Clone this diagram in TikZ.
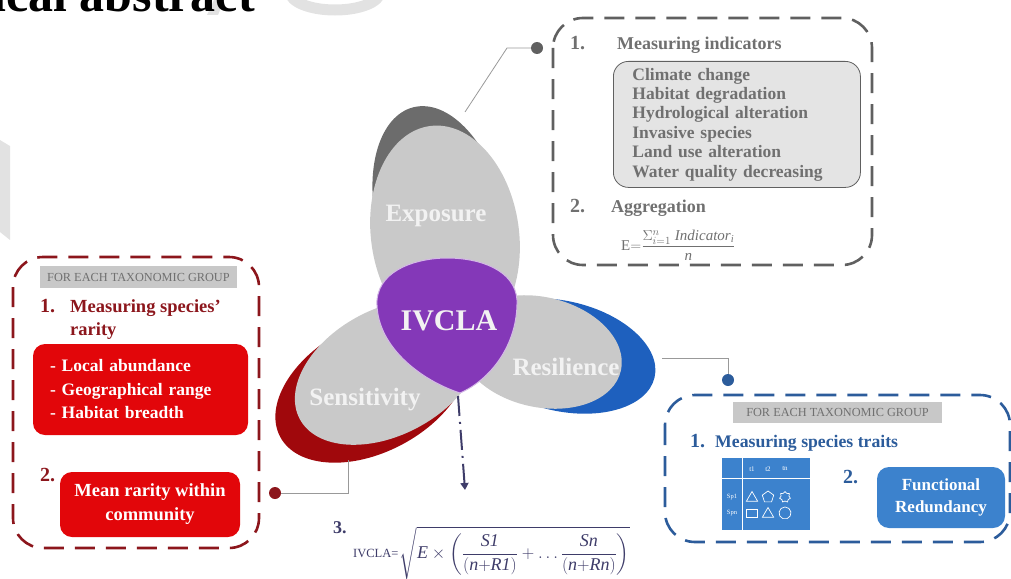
\documentclass[tikz,border=0pt]{standalone}
\usepackage{amsmath}
\usepackage{fontspec}
\setmainfont{Liberation Serif}
\usetikzlibrary{positioning,arrows.meta,shapes.geometric}

\definecolor{petalgray}{RGB}{201,201,201}
\definecolor{expodark}{RGB}{108,108,108}
\definecolor{sensired}{RGB}{160,8,12}
\definecolor{resiblue}{RGB}{30,96,190}
\definecolor{ivclapurple}{RGB}{132,56,184}
\definecolor{boxred}{RGB}{226,6,10}
\definecolor{darkred}{RGB}{140,22,28}
\definecolor{boxblue}{RGB}{60,130,205}
\definecolor{lineblue}{RGB}{44,92,155}
\definecolor{framegray}{RGB}{96,96,96}
\definecolor{textgray}{RGB}{112,112,112}
\definecolor{lightbox}{RGB}{228,228,228}
\definecolor{bannergray}{RGB}{200,200,200}
\definecolor{formulanavy}{RGB}{62,60,105}
\definecolor{wmgray}{RGB}{226,226,226}

\begin{document}
\begin{tikzpicture}[x=1pt, y=-1pt,
    petal/.style={fill=petalgray},
    petallabel/.style={text=white!95!black, inner sep=0pt, font=\fontsize{25}{27}\selectfont\bfseries},
    dashframe/.style={line width=2.6pt, dash pattern=on 20pt off 11pt, rounded corners=30pt},
    banner/.style={fill=bannergray, inner sep=0pt, minimum height=22pt, font=\fontsize{12.3}{14}\selectfont, text=textgray},
    numlabel/.style={anchor=base west, inner sep=0pt, font=\fontsize{20}{22}\selectfont\bfseries},
    steplabel/.style={anchor=base west, inner sep=0pt, font=\fontsize{18}{22}\selectfont\bfseries},
    fillbox/.style={rounded corners=12pt, text=white, inner sep=0pt, font=\fontsize{17.5}{23.5}\selectfont\bfseries},
    linkdot/.style={circle, inner sep=0pt, minimum size=12pt},
    linkline/.style={draw=gray!80, line width=0.8pt},
    traitshape/.style={draw=white, line width=0.7pt, inner sep=0pt, minimum size=10pt}
  ]
  \useasboundingbox (0,0) rectangle (1011,578);

  % faint watermark pieces
  \fill[wmgray] (207,15) -- (214,0) -- (224,0) -- (218,15) -- cycle;
  \draw[wmgray, line width=11pt] (290,-8) arc[start angle=180, end angle=360, x radius=45pt, y radius=18pt];
  \fill[wmgray] (0,140) -- (10,146) -- (10,240) -- (0,232) -- cycle;

  % title, cut by the page
  \node[anchor=base east, inner sep=0pt, font=\fontsize{50}{52}\selectfont\bfseries] (title) at (255,12) {Graphical abstract};

  % shadows behind the petals
  \fill[expodark, shift={(440,214)}, rotate=14] (0,0) ellipse [x radius=64pt, y radius=110pt];
  \fill[sensired, shift={(372,388)}, rotate=28] (0,0) ellipse [x radius=104pt, y radius=64pt];
  \fill[resiblue, shift={(562,356)}, rotate=-13] (0,0) ellipse [x radius=95pt, y radius=55pt];

  % the three petals
  \fill[petal, shift={(445,235)}, rotate=8] (0,0) ellipse [x radius=74pt, y radius=110pt];
  \fill[petal, shift={(388,372)}, rotate=28] (0,0) ellipse [x radius=100pt, y radius=63pt];
  \fill[petal, shift={(540,352)}, rotate=-13] (0,0) ellipse [x radius=83pt, y radius=55pt];

  % centre
  \filldraw[fill=ivclapurple, draw=ivclapurple!35!white, line width=1pt]
    (460,393) .. controls (420,380) and (375,345) .. (377,300)
    .. controls (380,268) and (420,258) .. (447,258)
    .. controls (480,258) and (515,270) .. (517,300)
    .. controls (518,345) and (490,380) .. (460,393) -- cycle;

  \node[petallabel] (exposure) at (436,216) {Exposure};
  \node[petallabel, font=\fontsize{30}{32}\selectfont\bfseries] (ivcla) at (449,321) {IVCLA};
  \node[petallabel] (resilience) at (566,367) {Resilience};
  \node[petallabel] (sensitivity) at (365,400) {Sensitivity};
  \coordinate (ivclabottom) at (458,396);
  \coordinate (formulatop) at (465,490);
  \draw[formulanavy, line width=2pt, dash pattern=on 20pt off 6pt on 2pt off 6pt,
    -{Triangle[width=8pt,length=7pt]}] (ivclabottom) -- (formulatop);

  % exposure panel
  \draw[dashframe, draw=framegray] (553,18) rectangle (872,265);
  \node[linkdot, fill=framegray] (expodot) at (537,48) {};
  \coordinate (expobend) at (507,48);
  \coordinate (expotip) at (465,112);
  \draw[linkline] (expodot) -- (expobend) -- (expotip);
  \node[numlabel, text=textgray] (expone) at (570,50) {1.};
  \node[steplabel, text=textgray] (expotitle) at (617,49) {Measuring indicators};
  \node[anchor=north west, draw=framegray, fill=lightbox, rounded corners=15pt, line width=0.8pt,
    minimum width=247pt, minimum height=126pt, inner xsep=19pt, text width=209pt, align=left,
    text=textgray, font=\fontsize{17.5}{19.4}\selectfont\bfseries] (indlist) at (613,61)
    {Climate change\\Habitat degradation\\Hydrological alteration\\Invasive species\\Land use alteration\\Water quality decreasing};
  \node[numlabel, text=textgray] (exptwo) at (570,212) {2.};
  \node[steplabel, text=textgray] (aggtitle) at (611,212) {Aggregation};
  \node[anchor=west, text=textgray, inner sep=0pt, font=\fontsize{15}{17}\selectfont] (aggformula) at (621,245)
    {$\mathrm{E}{=}\dfrac{\Sigma_{i=1}^{n}\;\textit{Indicator}_{\textit{i}}}{\textit{n}}$};

  % sensitivity panel
  \draw[dashframe, draw=darkred] (13,257) rectangle (259,548);
  \node[banner, minimum width=197pt] (sensbanner) at (138.5,277) {FOR EACH TAXONOMIC GROUP};
  \node[numlabel, text=darkred] (sensone) at (40,312) {1.};
  \node[steplabel, text=darkred, font=\fontsize{18.5}{22}\selectfont\bfseries] (senstitle) at (70,312) {Measuring species'};
  \node[steplabel, text=darkred, font=\fontsize{18.5}{22}\selectfont\bfseries] (sensrarity) at (70,335) {rarity};
  \node[fillbox, fill=boxred, minimum width=215pt, minimum height=91pt, inner xsep=17pt,
    text width=181pt, align=left] (rarlist) at (140.5,389.5)
    {- Local abundance\\- Geographical range\\- Habitat breadth};
  \node[numlabel, text=darkred] (senstwo) at (40,481) {2.};
  \node[fillbox, fill=boxred, minimum width=180pt, minimum height=65pt, align=center,
    font=\fontsize{18.5}{24}\selectfont\bfseries] (meanrar) at (150,504.5) {Mean rarity within\\community};
  \node[linkdot, fill=darkred] (sensdot) at (275,493) {};
  \coordinate (sensbend) at (348,493);
  \coordinate (senstip) at (348,460);
  \draw[linkline] (sensdot) -- (sensbend) -- (senstip);

  % resilience panel
  \draw[dashframe, draw=lineblue] (665,395) rectangle (1010,542);
  \node[linkdot, fill=lineblue] (residot) at (728,380) {};
  \coordinate (residbend) at (728,358);
  \coordinate (resitip) at (662,358);
  \draw[linkline] (residot) -- (residbend) -- (resitip);
  \node[banner, minimum width=209pt, minimum height=21pt] (resibanner) at (837.5,412.5) {FOR EACH TAXONOMIC GROUP};
  \node[numlabel, text=lineblue] (resione) at (690,447) {1.};
  \node[steplabel, text=lineblue, font=\fontsize{17.7}{22}\selectfont\bfseries] (resititle) at (715,447) {Measuring species traits};
  % trait table
  \node[fill=boxblue, anchor=north west, minimum width=88pt, minimum height=72pt, inner sep=0pt] (traittable) at (722,458) {};
  \draw[white, line width=0.5pt] (742,458) -- (742,530) (722,478) -- (810,478);
  \foreach \lab/\xx in {t1/752, t2/768, tn/785}
    \node[text=white, inner sep=0pt, font=\fontsize{7}{8}\selectfont] (head\lab) at (\xx,469) {\lab};
  \node[text=white, inner sep=0pt, font=\fontsize{6.5}{8}\selectfont] (spone) at (732,497) {Sp1};
  \node[text=white, inner sep=0pt, font=\fontsize{6.5}{8}\selectfont] (spn) at (732,513) {Spn};
  \node[traitshape, regular polygon, regular polygon sides=3, minimum size=13pt] (shapeaa) at (752,498) {};
  \node[traitshape, regular polygon, regular polygon sides=5, minimum size=12pt] (shapeab) at (768,497) {};
  \node[traitshape, star, star points=7, star point ratio=1.35, minimum size=11pt] (shapeac) at (785,497) {};
  \node[traitshape, rectangle, minimum width=11pt, minimum height=8pt] (shapeba) at (752,513) {};
  \node[traitshape, regular polygon, regular polygon sides=3, minimum size=13pt] (shapebb) at (768,514) {};
  \node[traitshape, regular polygon, regular polygon sides=9, minimum size=12pt] (shapebc) at (785,513) {};
  \node[numlabel, text=lineblue] (resitwo) at (843,483) {2.};
  \node[fillbox, fill=boxblue, minimum width=128pt, minimum height=61pt, align=center,
    font=\fontsize{17}{22}\selectfont\bfseries] (funcred) at (941,497.5) {Functional\\Redundancy};

  % final index
  \node[anchor=base west, inner sep=0pt, text=formulanavy, font=\fontsize{18}{20}\selectfont\bfseries] (stepthree) at (333,533) {3.};
  \node[anchor=base west, inner sep=0pt, text=formulanavy, font=\fontsize{12.5}{14}\selectfont] (ivclaeq) at (353,557) {IVCLA=};
  \node[right=1pt of ivclaeq, inner sep=0pt, text=formulanavy, font=\fontsize{18}{20}\selectfont] (ivclaroot)
    {$\sqrt{\textit{E}\times\left(\dfrac{\textit{S1}}{(\textit{n}{+}\textit{R1})}+\ldots\dfrac{\textit{Sn}}{(\textit{n}{+}\textit{Rn})}\right)}$};
\end{tikzpicture}
\end{document}
